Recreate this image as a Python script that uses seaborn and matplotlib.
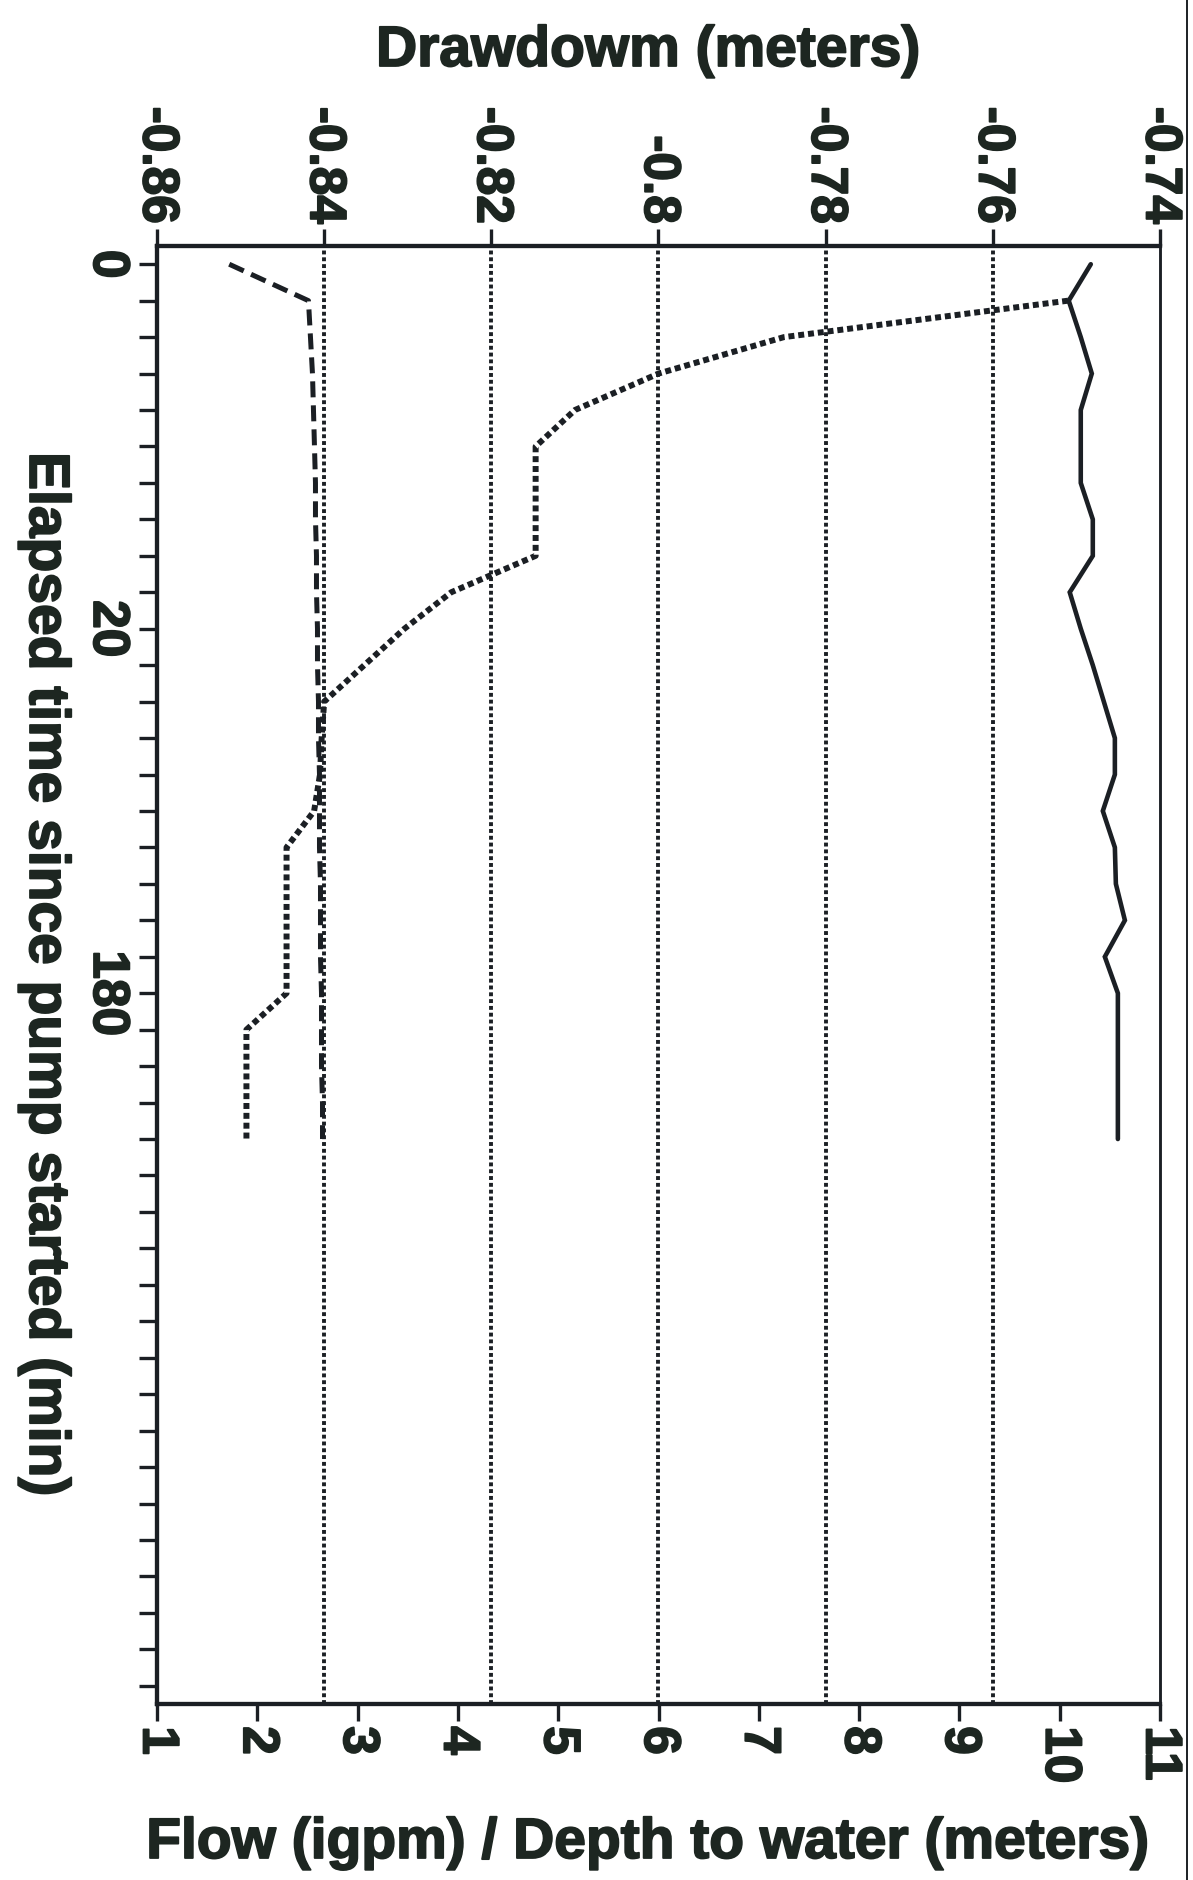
import numpy as np
import pandas as pd
import matplotlib
matplotlib.use("Agg")
import matplotlib.pyplot as plt
import matplotlib.patheffects as pe
from matplotlib.lines import Line2D
import seaborn as sns

sns.set_style("ticks")
plt.rcParams["font.family"] = ["Liberation Sans", "DejaVu Sans"]
plt.rcParams["font.weight"] = "bold"

INK = "#1b1f24"
TXT = "#1d2621"

# ---------------------------------------------------------------- data
# time axis is a category axis (one slot per reading), only some slots labelled
n_slots = 40
slot_labels = {0: "0", 10: "20", 20: "180"}

obs_idx = list(range(25))
depth = [10.31, 10.09, 10.21, 10.32, 10.21, 10.21, 10.21, 10.33, 10.33, 10.10,
         10.21, 10.33, 10.44, 10.55, 10.55, 10.43, 10.55, 10.56, 10.65, 10.45,
         10.58, 10.58, 10.58, 10.58, 10.58]
flow = [1.72, 2.51, 2.53, 2.55, 2.56, 2.57, 2.58, 2.58, 2.59, 2.59,
        2.60, 2.60, 2.61, 2.61, 2.62, 2.62, 2.62, 2.63, 2.63, 2.63,
        2.64, 2.64, 2.64, 2.65, 2.65]
dd_idx = list(range(1, 25))
drawdown = [-0.751, -0.785, -0.800, -0.810, -0.8147, -0.8147, -0.8147, -0.8147,
            -0.8248, -0.8304, -0.8352, -0.8400, -0.8403, -0.8405, -0.8412,
            -0.8445, -0.8445, -0.8445, -0.8445, -0.8445,
            -0.8493, -0.8493, -0.8493, -0.8493]

bottom_ticks = list(range(1, 12))
top_ticks = [-0.86, -0.84, -0.82, -0.80, -0.78, -0.76, -0.74]
top_ticklabels = ["-0.86", "-0.84", "-0.82", "-0.8", "-0.78", "-0.76", "-0.74"]
grid_at = [-0.84, -0.82, -0.80, -0.78, -0.76]

df = pd.DataFrame({"slot": obs_idx, "depth": depth, "flow": flow})
dd = pd.DataFrame({"slot": dd_idx, "drawdown": drawdown})

# ---------------------------------------------------------------- figure
W, H = 1193, 1881
fig = plt.figure(figsize=(W / 100, H / 100), dpi=100)
L, R, T, B = 157, 1160, 247, 1705
ax = fig.add_axes([L / W, 1 - B / H, (R - L) / W, (B - T) / H])
top = ax.twiny()

sns.lineplot(data=df, x="depth", y="slot", orient="y", sort=False, estimator=None,
             ax=ax, color=INK, lw=3.3, solid_joinstyle="miter")
sns.lineplot(data=df, x="flow", y="slot", orient="y", sort=False, estimator=None,
             ax=ax, color=INK, lw=3.6, linestyle=(0, (3.2, 1.6)))
sns.lineplot(data=dd, x="drawdown", y="slot", orient="y", sort=False, estimator=None,
             ax=top, color=INK, lw=4.3, linestyle=(0, (1.0, 0.65)))
for g in grid_at:
    top.axvline(g, color=INK, lw=2.8, linestyle=(0, (1.0, 0.75)), zorder=1)

ax.set_xlim(1, 11)
top.set_xlim(-0.86, -0.74)
ax.set_ylim(n_slots - 0.5, -0.5)

ax.set_yticks(range(n_slots))
ax.set_yticklabels([slot_labels.get(i, "") for i in range(n_slots)])
ax.set_xticks(bottom_ticks)
ax.set_xticklabels([str(t) for t in bottom_ticks])
top.set_xticks(top_ticks)
top.set_xticklabels(top_ticklabels)

heavy = [pe.withStroke(linewidth=1.3, foreground=TXT)]
tick_font = dict(fontsize=37, fontweight="bold", color=TXT, path_effects=heavy)
ax.tick_params(axis="y", direction="out", length=13, width=2.4, color=INK, pad=5)
ax.tick_params(axis="x", direction="out", length=12, width=2.4, color=INK, pad=4)
top.tick_params(axis="x", direction="out", length=12, width=2.4, color=INK, pad=4)
for t in ax.get_yticklabels():
    t.set(rotation=270, va="center", ha="right", **tick_font)
for t in ax.get_xticklabels():
    t.set(rotation=270, va="top", ha="center", **tick_font)
for t in top.get_xticklabels():
    t.set(rotation=270, va="bottom", ha="center", **tick_font)

for a in (ax, top):
    for side in ("left", "bottom", "top"):
        a.spines[side].set_linewidth(3.0)
        a.spines[side].set_color(INK)
    a.spines["right"].set_linewidth(1.8)
    a.spines["right"].set_color(INK)

label_font = dict(fontsize=41, fontweight="bold", color=TXT, path_effects=heavy)
top.set_xlabel("Drawdowm (meters)", **label_font)
top.xaxis.set_label_coords(0.49, 1 + 180 / (B - T))
ax.set_xlabel("Flow (igpm) / Depth to water (meters)", **label_font)
ax.xaxis.set_label_coords(0.49, -112 / (B - T))
ax.set_ylabel("Elapsed time since pump started (min)", rotation=270, va="center",
              ha="center", **label_font)
ax.yaxis.set_label_coords(-112 / (R - L), 0.5)
top.set_ylabel("")

# edge of the scanned page on the right
fig.add_artist(Line2D([1187 / W, 1187 / W], [0, 1], transform=fig.transFigure,
                      color=INK, lw=1.4))

fig.savefig("out.png", dpi=100, facecolor="white")
